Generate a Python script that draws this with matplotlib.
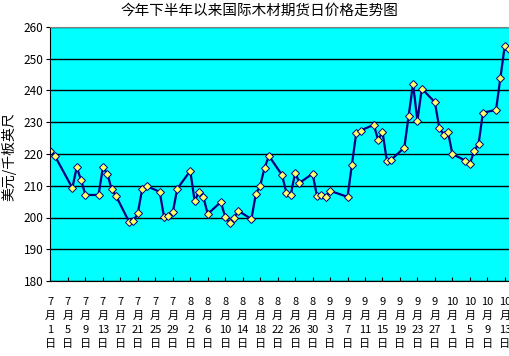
import numpy as np
import pandas as pd
from matplotlib import pyplot as plt

plt.rcParams['font.family'] = ['Noto Sans CJK SC', 'DejaVu Sans']

# 2010 trading days (month/day) and lumber futures price, USD per 1000 board feet
dates = ['7/1', '7/2', '7/6', '7/7', '7/8', '7/9', '7/12', '7/13', '7/14', '7/15',
         '7/16', '7/19', '7/20', '7/21', '7/22', '7/23', '7/26', '7/27', '7/28', '7/29',
         '7/30', '8/2', '8/3', '8/4', '8/5', '8/6', '8/9', '8/10', '8/11', '8/12',
         '8/13', '8/16', '8/17', '8/18', '8/19', '8/20', '8/23', '8/24', '8/25', '8/26',
         '8/27', '8/30', '8/31', '9/1', '9/2', '9/3', '9/7', '9/8', '9/9', '9/10',
         '9/13', '9/14', '9/15', '9/16', '9/17', '9/20', '9/21', '9/22', '9/23', '9/24',
         '9/27', '9/28', '9/29', '9/30', '10/1', '10/4', '10/5', '10/6', '10/7', '10/8',
         '10/11', '10/12', '10/13', '10/14']
prices = [221.0, 219.4, 209.3, 215.8, 211.8, 207.1, 207.1, 215.8, 213.8, 208.9,
          206.8, 198.6, 198.8, 201.5, 209.0, 209.9, 208.1, 200.1, 200.5, 201.6,
          209.0, 214.7, 205.2, 208.1, 206.4, 201.1, 204.9, 200.1, 198.3, 199.9,
          202.1, 199.5, 207.4, 210.0, 215.6, 219.4, 213.4, 207.8, 207.1, 214.1,
          210.9, 213.8, 206.8, 207.1, 206.5, 208.4, 206.5, 216.6, 226.7, 227.4,
          229.2, 224.5, 227.0, 217.9, 218.2, 222.0, 232.1, 242.1, 230.5, 240.6,
          236.3, 228.3, 226.1, 227.0, 220.0, 217.9, 216.9, 221.0, 223.2, 233.0,
          233.9, 244.0, 254.1, 253.2]
tick_dates = ['7/1', '7/5', '7/9', '7/13', '7/17', '7/21', '7/25', '7/29', '8/2', '8/6',
              '8/10', '8/14', '8/18', '8/22', '8/26', '8/30', '9/3', '9/7', '9/11', '9/15',
              '9/19', '9/23', '9/27', '10/1', '10/5', '10/9', '10/13']

start = pd.Timestamp('2010-07-01')
def to_day(s):
    return (pd.Timestamp('2010/' + s) - start).days

x = np.array([to_day(d) for d in dates])
xt = np.array([to_day(d) for d in tick_dates])
xt_labels = [d.split('/')[0] + '\n月\n' + d.split('/')[1] + '\n日' for d in tick_dates]

W, H = 510, 356
fig = plt.figure(figsize=(W / 100, H / 100), dpi=100)
aw = W - 50.5
ax = fig.add_axes([50.5 / W, (H - 281) / H, aw / W, (281 - 27) / H])
ax.set_facecolor('#00FFFF')

ax.plot(x, prices, '-', color='#000080', lw=1.6, marker='D', ms=4,
        mfc='#FFFF66', mec='#000080', mew=0.7)

ax.set_ylim(180, 260)
ax.set_yticks(np.arange(180, 261, 10))
ax.set_xlim(0, aw / 4.368)
ax.set_xticks(xt)
ax.set_xticklabels(xt_labels, fontsize=8, linespacing=1.5)
ax.grid(axis='y', color='black', lw=1)
ax.set_axisbelow(True)

for s in ['left', 'bottom']:
    ax.spines[s].set_color('black')
ax.spines['top'].set_color('#808080')
ax.spines['right'].set_visible(False)
ax.tick_params(axis='x', direction='in', length=3, pad=11.5)
ax.tick_params(axis='y', direction='out', length=3, labelsize=8.5, pad=2)

ax.set_ylabel('美元/千板英尺', fontsize=10)
ax.yaxis.set_label_coords((16 - 50.5) / aw, 0.49)
fig.text(259 / W, 1 - 11 / H, '今年下半年以来国际木材期货日价格走势图',
         ha='center', va='center', fontsize=10.5)

fig.savefig('out.png', dpi=100)
